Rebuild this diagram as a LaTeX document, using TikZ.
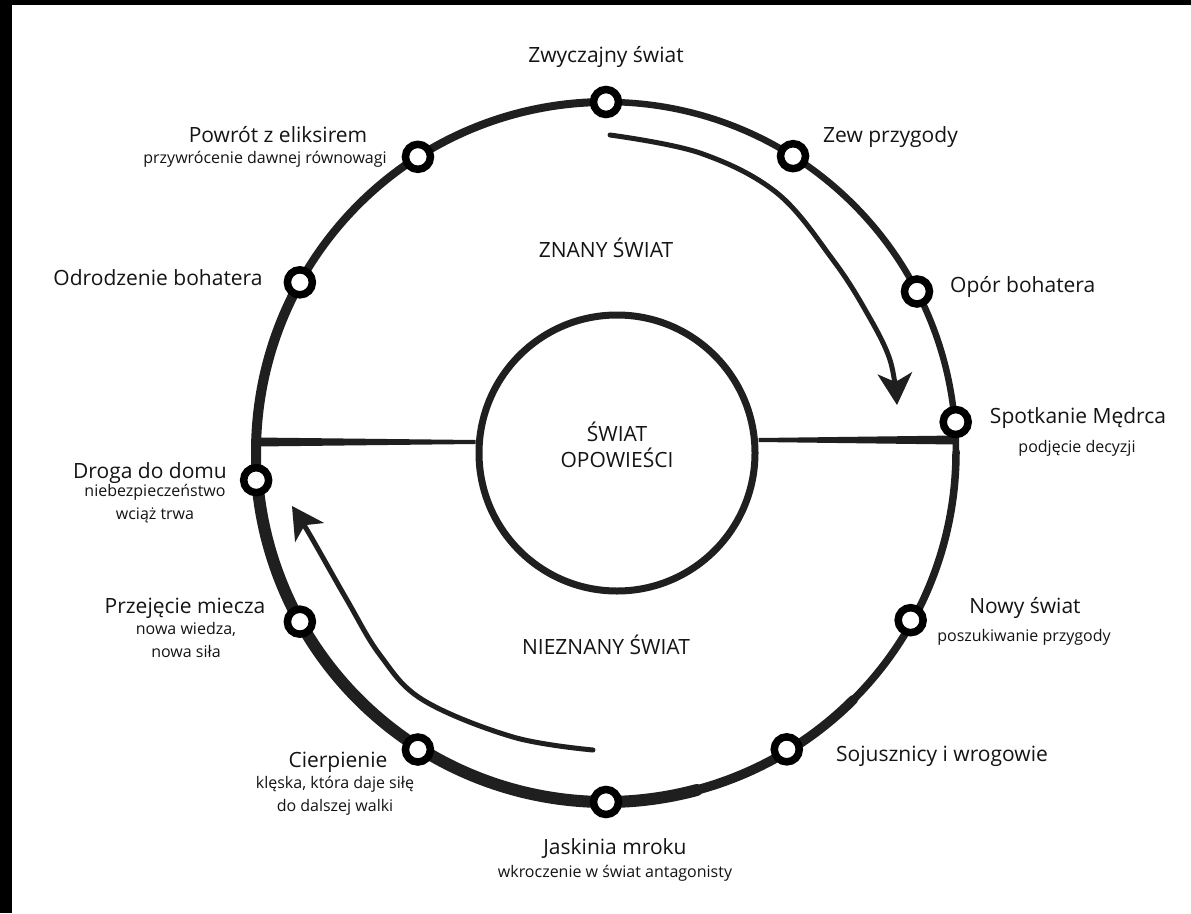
\documentclass[tikz,border=0pt]{standalone}
\usepackage{fontspec}
\setmainfont{Open Sans}
\usetikzlibrary{calc,arrows.meta}
\begin{document}
\begin{tikzpicture}[x=1pt,y=-1pt,
  stage/.style={circle,draw=black,line width=7.5pt,fill=white,minimum size=25pt,inner sep=0pt},
  ttl/.style={font=\fontsize{21}{25}\selectfont,text=black!92,inner sep=0pt},
  sub/.style={font=\fontsize{16}{23}\selectfont,text=black!92,inner sep=0pt,align=center},
  ring/.style={draw=black!88,line cap=round},
  divider/.style={fill=black!88},
  flow/.style={draw=black!88,line width=5pt,line cap=round,
    -{Stealth[length=32pt,width=35pt,inset=9pt,line width=0pt]}}
]
\useasboundingbox (0,0) rectangle (1191,913);
\fill[white] (0,0) rectangle (1191,913);
\fill[black] (0,0) rectangle (1191,5);
\fill[black] (0,0) rectangle (12,913);

\coordinate (C) at (606,452);
% outer ring, varying stroke
\draw[ring,line width=8pt] (C) ++(-150:350) arc[start angle=-150,end angle=-90,radius=350];
\draw[ring,line width=6.5pt] (C) ++(-90:350) arc[start angle=-90,end angle=0,radius=350];
\draw[ring,line width=7.5pt] (C) ++(0:350) arc[start angle=0,end angle=45,radius=350];
\draw[ring,line width=9.5pt] (C) ++(45:350) arc[start angle=45,end angle=75,radius=350];
\draw[ring,line width=12pt] (C) ++(75:350) arc[start angle=75,end angle=175,radius=350];
\draw[ring,line width=10pt] (C) ++(175:350) arc[start angle=175,end angle=210,radius=350];

% inner circle
\node[circle,draw=black!88,line width=7pt,minimum size=276pt,inner sep=0pt] (core) at (617,453) {};

% dividers (tapered towards the inner circle)
\coordinate (dl0) at (256,442);
\coordinate (dl1) at (core.west |- dl0);
\coordinate (dr0) at (956,440);
\coordinate (dr1) at (core.east |- dr0);
\fill[divider] ($(dl0)+(0,-4.5)$) -- ($(dl1)+(0,-2)$) -- ($(dl1)+(0,2)$) -- ($(dl0)+(0,4.5)$) -- cycle;
\fill[divider] ($(dr1)+(0,-2)$) -- ($(dr0)+(0,-4.5)$) -- ($(dr0)+(0,4.5)$) -- ($(dr1)+(0,2)$) -- cycle;

% arrows
\coordinate (r0) at (610,135);
\coordinate (r1) at (897,405);
\draw[flow] plot[smooth,tension=0.6] coordinates {(r0) (700,153) (777,193) (833,260) (867,313) (890,360) (r1)};
\coordinate (l0) at (593,750);
\coordinate (l1) at (292,506);
\draw[flow] plot[smooth,tension=0.6] coordinates {(l0) (513,737) (423,700) (380,655) (347,600) (310,535) (l1)};

% stages
\node[stage] (s1)  at ($(C)+(-90:350)$) {};
\node[stage] (s2)  at ($(C)+(-57.7:350)$) {};
\node[stage] (s3)  at ($(C)+(-27.3:350)$) {};
\node[stage] (s4)  at ($(C)+(-4.9:351)$) {};
\node[stage] (s5)  at ($(C)+(28.9:348)$) {};
\node[stage] (s6)  at ($(C)+(58.7:348)$) {};
\node[stage] (s7)  at ($(C)+(90:350)$) {};
\node[stage] (s8)  at ($(C)+(122.3:352)$) {};
\node[stage] (s9)  at ($(C)+(151:350)$) {};
\node[stage] (s10) at ($(C)+(175.4:351)$) {};
\node[stage] (s11) at ($(C)+(209:350)$) {};
\node[stage] (s12) at ($(C)+(237.5:350)$) {};

% region labels
\node[ttl] (known) at (606,248) {ZNANY ŚWIAT};
\node[ttl] (unknown) at (606,645) {NIEZNANY ŚWIAT};
\node[ttl,align=center,font=\fontsize{21}{26}\selectfont] (story) at (617,445) {ŚWIAT\\OPOWIEŚCI};

% stage labels
\node[ttl] (t1) at (606,57) {Zwyczajny świat};
\node[ttl,anchor=west] (t2) at (823,137) {Zew przygody};
\node[ttl,anchor=west] (t3) at (950,287) {Opór bohatera};
\node[ttl] (t4) at (1078,418) {Spotkanie Mędrca};
\node[sub] (u4) at (1077,448) {podjęcie decyzji};
\node[ttl] (t5) at (1025,608) {Nowy świat};
\node[sub] (u5) at (1024,637) {poszukiwanie przygody};
\node[ttl,anchor=east] (t6) at (1048,756) {Sojusznicy i wrogowie};
\node[ttl] (t7) at (615,848) {Jaskinia mroku};
\node[sub] (u7) at (615,873) {wkroczenie w świat antagonisty};
\node[ttl] (t8) at (338,762) {Cierpienie};
\node[sub,anchor=north] (u8) at (335,776) {klęska, która daje siłę\\do dalszej walki};
\node[ttl] (t9) at (185,608) {Przejęcie miecza};
\node[sub,anchor=north] (u9) at (186,622) {nowa wiedza,\\nowa siła};
\node[ttl] (t10) at (150,473) {Droga do domu};
\node[sub,anchor=north] (u10) at (155,484) {niebezpieczeństwo\\wciąż trwa};
\node[ttl] (t11) at (158,278) {Odrodzenie bohatera};
\node[ttl] (t12) at (278,135) {Powrót z eliksirem};
\node[sub] (u12) at (265,159) {przywrócenie dawnej równowagi};
\end{tikzpicture}
\end{document}
